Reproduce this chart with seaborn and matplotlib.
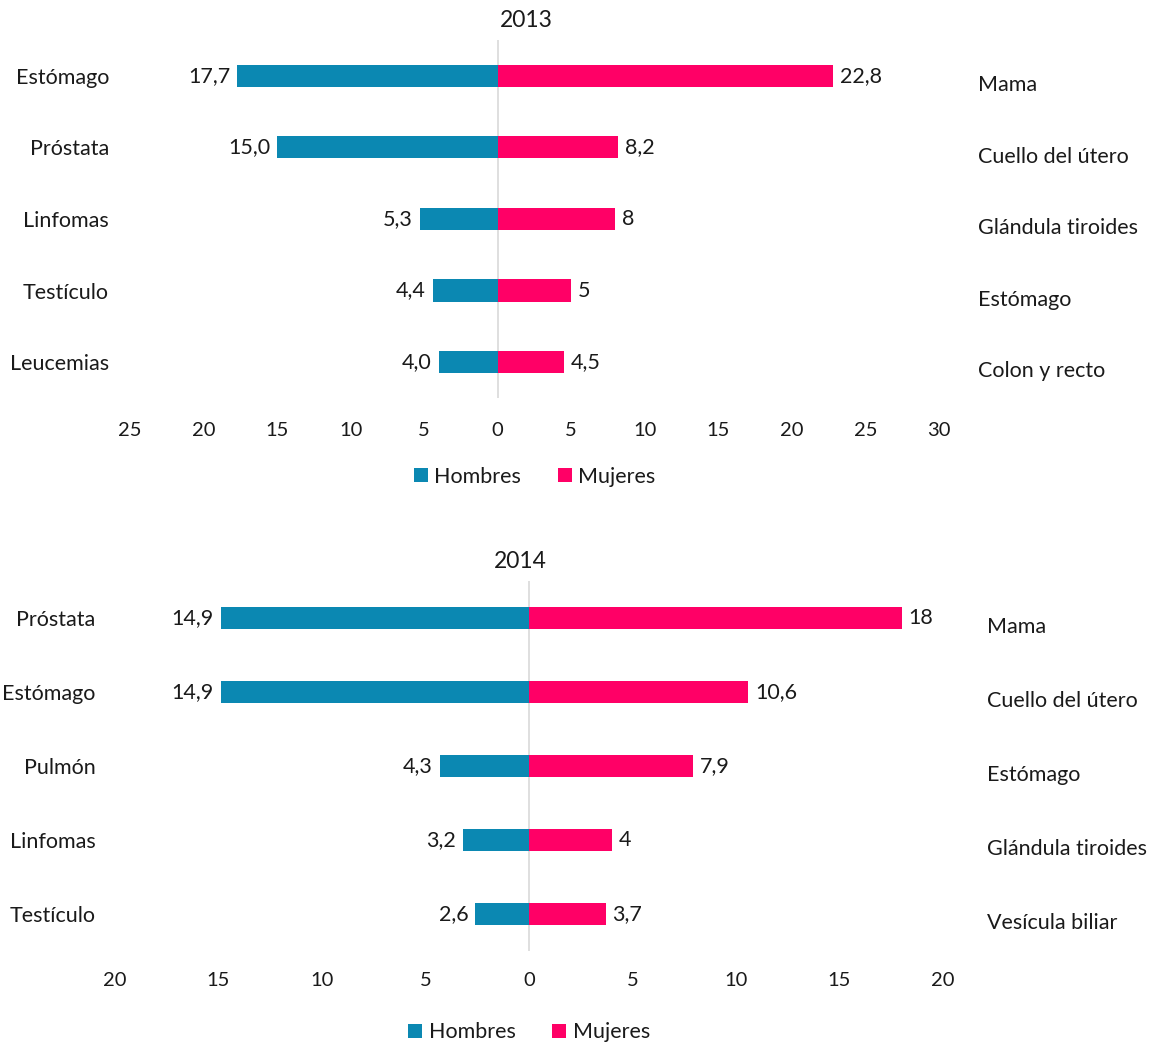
import pandas as pd
import matplotlib.pyplot as plt
import seaborn as sns
from matplotlib.ticker import FuncFormatter

# datos 2013
cats_h_2013 = ['Estómago', 'Próstata', 'Linfomas', 'Testículo', 'Leucemias']
hombres_2013 = [17.7, 15.0, 5.3, 4.4, 4.0]
etiq_h_2013 = ['17,7', '15,0', '5,3', '4,4', '4,0']
cats_m_2013 = ['Mama', 'Cuello del útero', 'Glándula tiroides', 'Estómago', 'Colon y recto']
mujeres_2013 = [22.8, 8.2, 8, 5, 4.5]
etiq_m_2013 = ['22,8', '8,2', '8', '5', '4,5']

# datos 2014
cats_h_2014 = ['Próstata', 'Estómago', 'Pulmón', 'Linfomas', 'Testículo']
hombres_2014 = [14.9, 14.9, 4.3, 3.2, 2.6]
etiq_h_2014 = ['14,9', '14,9', '4,3', '3,2', '2,6']
cats_m_2014 = ['Mama', 'Cuello del útero', 'Estómago', 'Glándula tiroides', 'Vesícula biliar']
mujeres_2014 = [18, 10.6, 7.9, 4, 3.7]
etiq_m_2014 = ['18', '10,6', '7,9', '4', '3,7']

AZUL = '#0B88B2'
ROSA = '#FF0066'
TXT = '#1a1a1a'
FS = 15.5

sns.set_style('white')
plt.rcParams['font.family'] = ['Lato', 'DejaVu Sans']
plt.rcParams['text.color'] = TXT
plt.rcParams['xtick.color'] = TXT
plt.rcParams['ytick.color'] = TXT


def panel(ax, titulo, cats_h, hombres, etiq_h, cats_m, mujeres, etiq_m,
          lim_izq, lim_der, pad_izq, pad_der, pad_x, titulo_x):
    df = pd.DataFrame({
        'cat': cats_h + cats_h,
        'valor': [-v for v in hombres] + list(mujeres),
        'sexo': ['Hombres'] * len(hombres) + ['Mujeres'] * len(mujeres),
    })
    sns.barplot(data=df, x='valor', y='cat', hue='sexo', orient='h',
                palette={'Hombres': AZUL, 'Mujeres': ROSA}, dodge=False,
                saturation=1, width=0.31, linewidth=0, ax=ax)
    ax.bar_label(ax.containers[0], labels=etiq_h, padding=5, fontsize=FS, color=TXT)
    ax.bar_label(ax.containers[1], labels=etiq_m, padding=5, fontsize=FS, color=TXT)

    ax.axvline(0, color='#D9D9D9', lw=1.2, zorder=0)
    ax.set_xlim(-lim_izq, lim_der)
    ax.set_xticks(range(-lim_izq, lim_der + 1, 5))
    ax.xaxis.set_major_formatter(FuncFormatter(lambda v, p: f'{abs(v):g}'))
    ax.tick_params(axis='x', length=0, pad=pad_x, labelsize=14.5)
    ax.tick_params(axis='y', length=0, pad=pad_izq, labelsize=FS)
    ax.set_xlabel('')
    ax.set_ylabel('')
    sns.despine(ax=ax, left=True, bottom=True)
    ax.set_title(titulo, fontsize=16.5, pad=9, x=titulo_x)

    # etiquetas de las mujeres a la derecha
    ax2 = ax.twinx()
    y0, y1 = ax.get_ylim()
    ax2.set_ylim(y0 - 0.1, y1 - 0.1)
    ax2.set_yticks(range(len(cats_m)))
    ax2.set_yticklabels(cats_m)
    ax2.tick_params(axis='y', length=0, pad=pad_der, labelsize=FS)
    for s in ax2.spines.values():
        s.set_visible(False)

    h, l = ax.get_legend_handles_labels()
    ax.legend(h, l, loc='center', bbox_to_anchor=(0.5, -0.22), ncol=2,
              frameon=False, fontsize=FS, handlelength=0.65, handleheight=0.65,
              handletextpad=0.3, columnspacing=1.7)


fig = plt.figure(figsize=(11.51, 10.47), dpi=100)
ax_a = fig.add_axes([0.1129, 0.6199, 0.7029, 0.3419])
ax_b = fig.add_axes([0.0999, 0.0917, 0.7194, 0.3534])

panel(ax_a, '2013', cats_h_2013, hombres_2013, etiq_h_2013,
      cats_m_2013, mujeres_2013, etiq_m_2013, 25, 30, 15, 28, 17, 0.49)
panel(ax_b, '2014', cats_h_2014, hombres_2014, etiq_h_2014,
      cats_m_2014, mujeres_2014, etiq_m_2014, 20, 20, 14, 32, 15, 0.49)

fig.savefig('out.png', dpi=100)
